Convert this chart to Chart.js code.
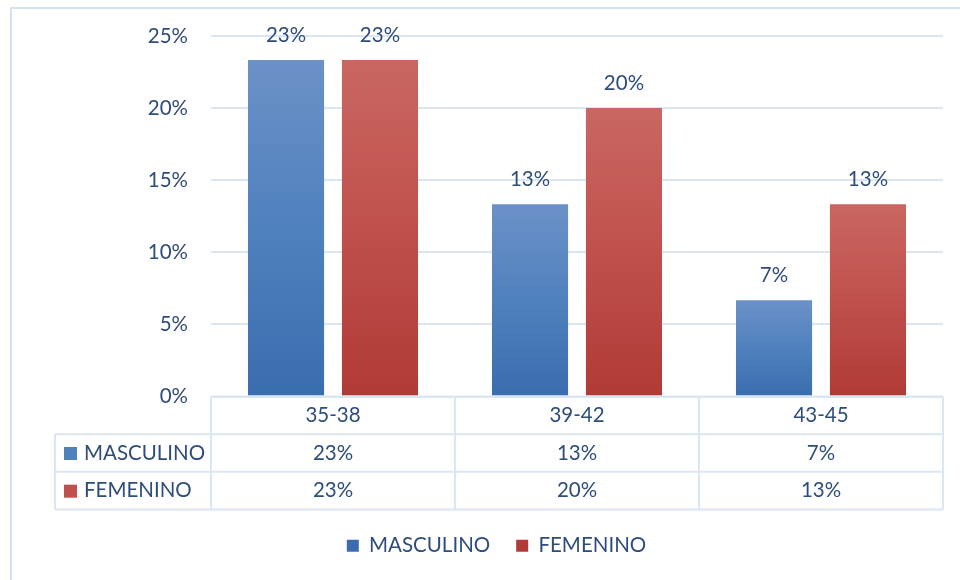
<!DOCTYPE html>
<html>
<head>
<meta charset="utf-8">
<script src="https://cdn.jsdelivr.net/npm/chart.js@4/dist/chart.umd.min.js"></script>
<style>
  html, body { margin: 0; padding: 0; background: #fff; }
  #wrap { width: 960px; height: 580px; }
</style>
</head>
<body>
<div id="wrap"><canvas id="grupoEdad"></canvas></div>
<script>
var categorias = ['35-38', '39-42', '43-45'];
var masculino = [23.33, 13.33, 6.67];
var femenino = [23.33, 20.00, 13.33];
var yTicks = [0, 5, 10, 15, 20, 25];

var FONT = 'Lato';
var FSIZE = 20.5;
var TEXT = '#2e4d7b';
var LINE = '#dbe6f3';

Chart.defaults.font.family = FONT;
Chart.defaults.color = TEXT;

function barGradient(colors) {
    return function (context) {
        var chart = context.chart;
        if (!chart.chartArea || context.parsed == null || context.type !== 'data') {
            return colors[1];
        }
        var y = chart.scales.y;
        var top = y.getPixelForValue(context.parsed.y);
        var bottom = y.getPixelForValue(0);
        var g = chart.ctx.createLinearGradient(0, top, 0, bottom);
        g.addColorStop(0, colors[0]);
        g.addColorStop(0.5, colors[1]);
        g.addColorStop(1, colors[2]);
        return g;
    };
}

var blueCols = ['#6c91c8', '#4f81bd', '#3a6daf'];
var redCols = ['#c96762', '#c0504d', '#b03a36'];

// marco exterior
var frame = {
    id: 'frame',
    beforeDraw: function (chart) {
        var ctx = chart.ctx;
        ctx.save();
        ctx.strokeStyle = '#d5e2f3';
        ctx.lineWidth = 2;
        ctx.strokeRect(11, 8, 1000, 700);
        ctx.restore();
    }
};

// etiquetas encima de las barras
var barLabels = {
    id: 'barLabels',
    afterDatasetsDraw: function (chart) {
        var ctx = chart.ctx;
        ctx.save();
        ctx.font = FSIZE + 'px ' + FONT;
        ctx.fillStyle = TEXT;
        ctx.textAlign = 'center';
        ctx.textBaseline = 'middle';
        chart.data.datasets.forEach(function (ds, i) {
            chart.getDatasetMeta(i).data.forEach(function (bar, j) {
                ctx.fillText(Math.round(ds.data[j]) + '%', bar.x, bar.y - 25);
            });
        });
        ctx.restore();
    }
};

// tabla de datos bajo el eje x
var dataTable = {
    id: 'dataTable',
    afterDraw: function (chart) {
        var ctx = chart.ctx;
        var x = chart.scales.x;
        var top = chart.chartArea.bottom;
        var rowH = x.height / 3;
        var left = x.left, right = x.right;
        var labelLeft = 55;
        var colW = (right - left) / categorias.length;
        ctx.save();
        ctx.strokeStyle = LINE;
        ctx.lineWidth = 2;
        ctx.beginPath();
        // horizontales
        ctx.moveTo(left, top); ctx.lineTo(right, top);
        for (var r = 1; r <= 3; r++) {
            ctx.moveTo(labelLeft, top + rowH * r);
            ctx.lineTo(right, top + rowH * r);
        }
        // verticales
        ctx.moveTo(labelLeft, top + rowH); ctx.lineTo(labelLeft, top + rowH * 3);
        for (var c = 0; c <= categorias.length; c++) {
            ctx.moveTo(left + colW * c, top);
            ctx.lineTo(left + colW * c, top + rowH * 3);
        }
        ctx.stroke();

        ctx.font = FSIZE + 'px ' + FONT;
        ctx.fillStyle = TEXT;
        ctx.textBaseline = 'middle';
        ctx.textAlign = 'center';
        categorias.forEach(function (cat, i) {
            var cx = x.getPixelForValue(i);
            ctx.fillText(cat, cx, top + rowH * 0.5);
        });
        var series = [
            { name: 'MASCULINO', data: masculino, color: blueCols[1] },
            { name: 'FEMENINO', data: femenino, color: redCols[1] }
        ];
        series.forEach(function (s, k) {
            var cy = top + rowH * (k + 1.5);
            ctx.textAlign = 'center';
            s.data.forEach(function (v, i) {
                ctx.fillText(Math.round(v) + '%', x.getPixelForValue(i), cy);
            });
            ctx.fillStyle = s.color;
            ctx.fillRect(64, cy - 6, 13, 13);
            ctx.fillStyle = TEXT;
            ctx.textAlign = 'left';
            ctx.fillText(s.name, 84, cy);
        });
        ctx.restore();
    }
};

var ctx = document.getElementById('grupoEdad');
var myChart = new Chart(ctx, {
    type: 'bar',
    plugins: [frame, barLabels, dataTable],
    data: {
        labels: categorias,
        datasets: [
            {
                label: 'MASCULINO',
                data: masculino,
                backgroundColor: barGradient(blueCols),
            },
            {
                label: 'FEMENINO',
                data: femenino,
                backgroundColor: barGradient(redCols),
            },
        ]
    },
    options: {
        responsive: true,
        maintainAspectRatio: false,
        animation: false,
        layout: {
            padding: { top: 36, right: 17, bottom: 14, left: 50 },
        },
        plugins: {
            legend: {
                position: 'bottom',
                labels: {
                    boxWidth: 12,
                    boxHeight: 12,
                    padding: 26,
                    color: TEXT,
                    font: { size: FSIZE, family: FONT },
                },
            },
            tooltip: { enabled: false },
        },
        datasets: {
            bar: {
                categoryPercentage: 0.77,
                barPercentage: 0.81,
            },
        },
        scales: {
            x: {
                grid: { display: false },
                border: { display: false },
                ticks: { display: false },
                afterFit: function (scale) { scale.height = 113; },
            },
            y: {
                min: 0,
                max: 25,
                afterBuildTicks: function (scale) {
                    scale.ticks = yTicks.map(function (v) { return { value: v }; });
                },
                afterFit: function (scale) { scale.width = 161; },
                ticks: {
                    padding: 23,
                    font: { size: FSIZE, family: FONT },
                    callback: function (value) { return value + '%'; },
                },
                grid: {
                    color: LINE,
                    lineWidth: 2,
                    drawTicks: false,
                },
                border: { display: false },
            },
        },
    },
});
myChart.update();
</script>
</body>
</html>
